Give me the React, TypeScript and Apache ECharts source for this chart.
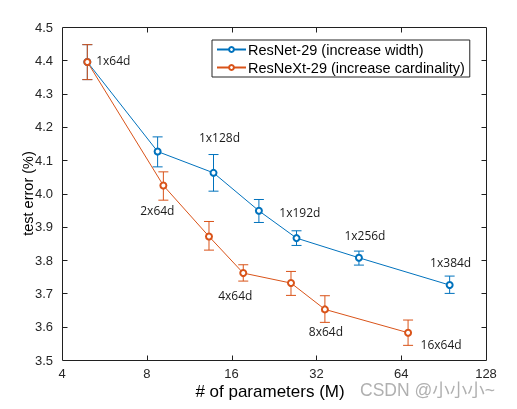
import React, { useEffect, useRef } from "react";
import * as echarts from "echarts";

// ---- data ----
const xTicks = [4, 8, 16, 32, 64, 128];
const yTicks = [3.5, 3.6, 3.7, 3.8, 3.9, 4.0, 4.1, 4.2, 4.3, 4.4, 4.5];

const resnetParams = [4.92, 8.74, 13.8, 20.0, 27.2, 45.3, 95.1];
const resnetError = [4.395, 4.126, 4.062, 3.948, 3.866, 3.807, 3.725];
const resnetLow = [4.342, 4.08, 4.007, 3.913, 3.844, 3.785, 3.7];
const resnetHigh = [4.447, 4.17, 4.117, 3.982, 3.888, 3.827, 3.752];
const resnetLabels = ["", "", "1x128d", "1x192d", "", "1x256d", "1x384d"];

const resnextParams = [4.92, 9.16, 13.3, 17.6, 26.0, 34.3, 67.7];
const resnextError = [4.395, 4.024, 3.871, 3.761, 3.731, 3.652, 3.582];
const resnextLow = [4.342, 3.98, 3.83, 3.737, 3.694, 3.613, 3.544];
const resnextHigh = [4.447, 4.065, 3.916, 3.786, 3.766, 3.693, 3.62];
const resnextLabels = ["1x64d", "2x64d", "", "4x64d", "", "8x64d", "16x64d"];

// label offsets (style only)
const resnetLabelOffsets: [number, number][] = [
  [0, 0], [0, 0], [6, -35], [41, 2], [0, 0], [6, -22], [1, -23],
];
const resnextLabelOffsets: [number, number][] = [
  [26, -1], [-6, 25], [0, 0], [-8, 22], [0, 0], [1, 22], [33, 12],
];

const BLUE = "#0072BD";
const ORANGE = "#D95319";
const AXIS = "#262626";
const X_MIN = xTicks[0];
const X_MAX = xTicks[xTicks.length - 1];
const Y_MIN = yTicks[0];
const Y_MAX = yTicks[yTicks.length - 1];

// layout (style only)
const GRID_LEFT = 62;
const GRID_TOP = 27;
const GRID_W = 424;
const GRID_H = 333;
const TICK = 5;

function errorBarSeries(name: string, xs: number[], lo: number[], hi: number[], color: string) {
  return {
    type: "custom",
    name: name + "-err",
    xAxisIndex: 0,
    yAxisIndex: 0,
    clip: false,
    data: xs.map((x, i) => [x, lo[i], hi[i]]),
    renderItem: (params: any, api: any) => {
      const x = api.value(0);
      const a = api.coord([x, api.value(1)]);
      const b = api.coord([x, api.value(2)]);
      const w = 5;
      return {
        type: "group",
        children: [
          { type: "line", shape: { x1: a[0], y1: a[1], x2: b[0], y2: b[1] }, style: { stroke: color, lineWidth: 1 } },
          { type: "line", shape: { x1: a[0] - w, y1: a[1], x2: a[0] + w, y2: a[1] }, style: { stroke: color, lineWidth: 1 } },
          { type: "line", shape: { x1: b[0] - w, y1: b[1], x2: b[0] + w, y2: b[1] }, style: { stroke: color, lineWidth: 1 } },
        ],
      };
    },
    silent: true,
    z: 3,
  };
}

function lineSeries(name: string, xs: number[], ys: number[], labels: string[], offsets: [number, number][], color: string) {
  return {
    type: "line",
    name,
    xAxisIndex: 0,
    yAxisIndex: 0,
    symbol: "emptyCircle",
    symbolSize: 6,
    lineStyle: { color, width: 1 },
    itemStyle: { color, borderWidth: 1 },
    data: xs.map((x, i) => ({
      value: [x, ys[i]],
      label: {
        show: labels[i] !== "",
        formatter: labels[i],
        position: "inside",
        offset: offsets[i],
        color: "#1a1a1a",
        fontSize: 12,
        fontFamily: "Open Sans",
      },
    })),
    z: 4,
  };
}

export default function App() {
  const ref = useRef<HTMLDivElement>(null);
  useEffect(() => {
    if (!ref.current) return;
    const chart = echarts.init(ref.current, undefined, { renderer: "svg" });
    const tickFont = { color: AXIS, fontSize: 13, fontFamily: "Liberation Sans" };
    chart.setOption({
      animation: false,
      grid: { left: GRID_LEFT, top: GRID_TOP, width: GRID_W, height: GRID_H, containLabel: false },
      legend: {
        orient: "vertical",
        left: 212,
        top: 40,
        data: ["ResNet-29 (increase width)", "ResNeXt-29 (increase cardinality)"],
        borderColor: AXIS,
        borderWidth: 1,
        padding: [2, 5, 2, 4],
        itemGap: 3,
        itemWidth: 29,
        itemHeight: 6,
        textStyle: { color: "#000", fontSize: 14.5, fontFamily: "Liberation Sans", padding: [0, 0, 0, -3] },
      },
      xAxis: {
        type: "log",
        logBase: 2,
        min: X_MIN,
        max: X_MAX,
        position: "bottom",
        name: "# of parameters (M)",
        nameLocation: "middle",
        nameGap: 23,
        nameMoveOverlap: false,
        nameTextStyle: { color: "#000", fontSize: 17, fontFamily: "Liberation Sans", padding: [0, 8, 0, 0] },
        axisLine: { show: false },
        axisTick: { show: false },
        axisLabel: { ...tickFont, margin: 7, formatter: (v: number) => (xTicks.includes(Math.round(v)) ? String(Math.round(v)) : "") },
        splitLine: { show: false },
      },
      yAxis: {
        type: "value",
        min: Y_MIN,
        max: Y_MAX,
        interval: 0.1,
        position: "left",
        name: "test error (%)",
        nameLocation: "middle",
        nameGap: 27,
        nameMoveOverlap: false,
        nameRotate: 90,
        nameTextStyle: { color: "#000", fontSize: 14.5, fontFamily: "Liberation Sans" },
        axisLine: { show: false },
        axisTick: { show: false },
        axisLabel: { ...tickFont, margin: 9, formatter: (v: number) => v.toFixed(1) },
        splitLine: { show: false },
      },
      series: [
        errorBarSeries("ResNet-29 (increase width)", resnetParams, resnetLow, resnetHigh, BLUE),
        lineSeries("ResNet-29 (increase width)", resnetParams, resnetError, resnetLabels, resnetLabelOffsets, BLUE),
        errorBarSeries("ResNeXt-29 (increase cardinality)", resnextParams, resnextLow, resnextHigh, ORANGE),
        lineSeries("ResNeXt-29 (increase cardinality)", resnextParams, resnextError, resnextLabels, resnextLabelOffsets, ORANGE),
      ],
    });

    // axes box (at the grid's layout rectangle) and inward ticks placed through the chart's scales
    const x0 = GRID_LEFT + 0.5;
    const y1 = GRID_TOP + 0.5;
    const x1 = GRID_LEFT + GRID_W + 0.5;
    const y0 = GRID_TOP + GRID_H + 0.5;
    const midY = 4.0;
    const midX = 16;
    const stroke = { stroke: "#202020", lineWidth: 1 };
    const elements: any[] = [
      { type: "line", shape: { x1: x0, y1: y0, x2: x1, y2: y0 }, style: stroke, z: 100, silent: true },
      { type: "line", shape: { x1: x0, y1: y1, x2: x1, y2: y1 }, style: stroke, z: 100, silent: true },
      { type: "line", shape: { x1: x0, y1: y1, x2: x0, y2: y0 }, style: stroke, z: 100, silent: true },
      { type: "line", shape: { x1: x1, y1: y1, x2: x1, y2: y0 }, style: stroke, z: 100, silent: true },
    ];
    xTicks.slice(1, -1).forEach((t) => {
      const p = chart.convertToPixel({ gridIndex: 0 }, [t, midY]) as number[];
      if (!p || !isFinite(p[0])) return;
      const x = Math.round(p[0]) + 0.5;
      elements.push({ type: "line", shape: { x1: x, y1: y0, x2: x, y2: y0 - TICK }, style: stroke, z: 100, silent: true });
      elements.push({ type: "line", shape: { x1: x, y1: y1, x2: x, y2: y1 + TICK }, style: stroke, z: 100, silent: true });
    });
    yTicks.slice(1, -1).forEach((t) => {
      const p = chart.convertToPixel({ gridIndex: 0 }, [midX, t]) as number[];
      if (!p || !isFinite(p[1])) return;
      const y = Math.round(p[1]) + 0.5;
      elements.push({ type: "line", shape: { x1: x0, y1: y, x2: x0 + TICK, y2: y }, style: stroke, z: 100, silent: true });
      elements.push({ type: "line", shape: { x1: x1, y1: y, x2: x1 - TICK, y2: y }, style: stroke, z: 100, silent: true });
    });
    elements.push({
      type: "text",
      left: 360,
      top: 381,
      style: {
        text: "CSDN @小小小~",
        fill: "#b0b0b0",
        fontSize: 17.5,
        fontFamily: "Liberation Sans, Noto Sans CJK SC",
      },
      z: 10,
    });
    chart.setOption({ graphic: elements });

    return () => chart.dispose();
  }, []);
  return <div ref={ref} style={{ position: "fixed", left: 0, top: 0, width: 517, height: 409 }} />;
}
